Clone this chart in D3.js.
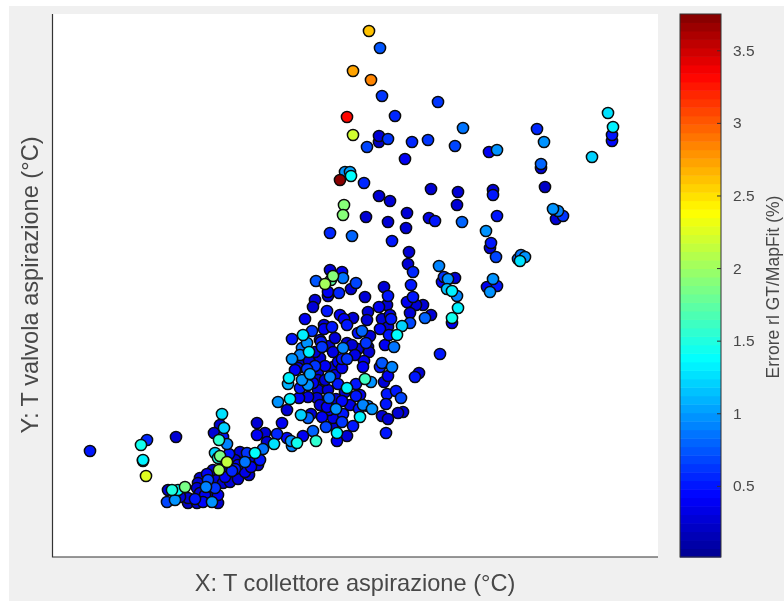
<!DOCTYPE html>
<html><head><meta charset="utf-8">
<script src="https://cdn.jsdelivr.net/npm/d3@7/dist/d3.min.js"></script>
<style>html,body{margin:0;padding:0;background:#fff;overflow:hidden}svg{display:block;filter:blur(0.55px)}text{font-family:"Liberation Sans",Arial,sans-serif;fill:#484848}</style>
</head><body><div id="chart"></div>
<script>
// Each reading: [T collettore, T valvola, errore %]; axes carry no numbers, so T is in arbitrary axis units.
const upperCloud=[[316,526,2.6],[327,509,.72],[300,486,2.7],[318,477,2.85],[329,461,.6],[294,440,3.3],[342,441,.55],[385,455,.65],[300,422,2.2],[326,415,.22],[326,421,.28],[335,418,.6],[314,410,.7],[359,415,.55],[375,417,.65],[410,429,.85],[402,411,.7],[436,405,.4],[444,407,1.0],[484,428,.55],[491,415,.95],[555,444,1.25],[560,430,1.3],[559,422,.5],[559,416,.45],[539,400,1.2],[488,389,.3],[488,393,.8],[352,398,.4],[292,385,1.0],[297,385,1.05],[298,381,1.4],[287,377,3.75],[311,374,.55],[326,361,.3],[337,356,.25],[378,368,.25],[405,365,.3],[440,367,.25],[440,362,.5],[492,370,.2],[404,352,.3],[291,352,1.9],[290,342,1.9],[313,340,.25],[335,335,.3],[354,344,.3],[353,329,.3],[376,339,.35],[382,336,.5],[409,335,.8],[444,341,.5],[277,324,.55],[299,321,.8],[339,316,.5],[433,326,.95],[438,314,.5],[437,309,.3],[443,300,.7],[500,348,1.0],[505,346,.9],[510,341,.6],[503,338,.3],[465,298,.8],[468,302,.85],[472,300,.95],[467,296,1.25]];
const rightCluster=[[440,278,1.0],[444,271,.5],[434,270,.4],[437,265,1.0],[386,291,.9],[389,275,.45],[391,280,.6],[395,278,.95],[402,279,.3],[394,268,1.15],[399,266,1.3],[404,261,.9],[405,249,1.35],[399,239,1.45],[399,234,.4],[387,203,.5]];
const midRight=[[356,305,.3],[355,293,.3],[360,285,.55],[358,272,.5],[331,270,.3],[335,261,.5],[312,260,.3],[360,260,.5],[354,255,.4],[370,252,.25],[363,252,.25],[326,250,.4],[334,252,.3],[315,245,.3],[378,242,.3],[357,244,.3],[337,242,.35],[329,238,.3],[338,238,.5],[372,239,.8],[357,234,.7],[349,231,1.2],[327,228,.45],[335,230,.3],[344,222,1.4],[336,222,.5],[332,212,.4],[341,210,.85],[314,237,.3],[309,226,.8],[317,221,.3],[313,214,.6],[315,210,.3],[305,224,.5],[316,205,.3],[305,208,.3],[311,196,.4],[310,190,.4],[329,194,.75],[327,190,.5],[339,190,.9],[335,181,.4],[331,175,.3],[362,180,.5],[366,184,.3]];
const coreCloud=[[277,287,.3],[289,285,.4],[280,281,1.9],[278,277,1.75],[272,273,2.0],[263,276,.75],[290,279,.85],[303,274,.7],[275,265,.4],[275,261,.3],[286,264,.55],[298,268,.3],[262,257,.3],[260,250,.3],[274,246,.5],[252,238,.4],[287,242,.4],[291,238,.4],[300,239,.3],[294,232,.48],[271,232,.3],[279,230,.5],[271,228,.4],[259,226,.6],[250,222,1.35],[239,218,.5],[254,214,.95],[268,215,.5],[276,211,.3],[294,214,.3],[290,209,.9],[249,209,.85],[256,205,1.35],[239,198,.95],[247,202,.9],[250,195,.3],[262,191,.6],[272,191,.4],[269,210,.6],[289,198,.5],[294,198,.6],[285,195,.4],[289,189,.4],[254,188,.6],[245,189,.4],[265,185,.3],[312,178,1.6],[318,175,.95],[303,173,.5],[294,169,1.3],[277,180,.9],[257,183,1.05],[249,177,1.0],[236,179,1.3],[235,173,1.1],[255,172,.95],[247,169,.5],[265,177,.3],[285,173,.5],[265,167,.3],[237,158,1.35],[225,155,.95],[234,147,.3],[246,159,.4],[276,159,.8],[303,161,.5],[289,156,.42],[334,163,.5],[343,166,.5],[348,159,.7],[333,153,.5],[283,148,1.0],[319,148,.95],[315,151,.85],[310,152,.9],[329,141,.3],[345,144,.3],[350,145,.25],[335,138,.3],[290,143,.5],[307,140,1.35],[306,148,.5],[276,147,.4],[248,142,1.2],[258,143,.3],[255,139,.8],[300,131,.5],[284,124,1.35],[294,121,.3],[284,116,.4],[273,130,.7],[260,126,.8],[250,121,.4],[263,116,1.55],[333,124,.5],[289,135,.6],[280,139,.35],[269,140,.4],[274,150,.4],[280,132,.3],[260,174,.4],[275,167,.3],[264,159,.3]];
const coreDark=[[267,199,.3],[280,205,.35],[299,212,.3],[267,152,.3],[297,152,.35],[292,165,.3],[272,177,.3],[282,182,.35],[242,187,.4],[307,162,.4],[267,217,.3],[282,219,.3],[302,202,.35],[262,205,.3],[256,196,.3],[280,190,.3],[255,160,.35],[283,158,.3]];
const lowerTail=[[204,134,.3],[229,134,.4],[224,123,.55],[204,122,.4],[212,124,.3],[244,114,1.45],[238,116,1.0],[239,111,.9],[234,119,.45],[221,113,1.25],[214,115,.3],[210,108,.85],[202,104,1.4],[194,104,.6],[207,97,.5],[192,95,.85],[200,99,.3],[187,105,.3],[169,143,1.25],[171,129,1.2],[167,132,.3],[161,124,.3],[166,117,1.55],[174,113,.9],[170,120,.5],[162,104,1.2],[167,101,1.85],[165,99,1.5],[176,103,.5],[174,95,2.15],[166,87,2.0],[179,86,.55],[185,92,.4],[170,94,.3],[182,97,.3],[174,84,.3],[184,82,.3],[160,87,.3],[154,83,.4],[147,79,.25],[155,77,.7],[164,77,.3],[145,74,.25],[153,70,.9],[162,69,.6],[170,74,.3],[144,69,.3],[147,64,.3],[157,64,.3],[142,58,.5],[152,62,.4],[165,62,.4],[135,54,.2],[159,55,1.0],[150,55,.45],[144,54,.3],[135,59,.25],[165,54,.3],[119,67,1.5],[132,70,1.85],[125,67,1.4],[115,67,.3],[122,57,1.0],[114,55,.7],[127,60,.3],[123,120,.3],[37,106,.5],[94,117,.55],[88,112,1.45],[90,96,.2],[90,97,1.3],[93,81,2.25],[177,75,.3],[185,78,.3],[192,85,.35],[198,90,.4],[205,92,.3],[182,88,.5],[190,92,.3],[172,80,.4],[196,82,.3]];
const colorTicks=[0.5,1,1.5,2,2.5,3,3.5];
const errDomain=[0.01,3.75];
const jetStops=["#00008f","#0000ff","#00ffff","#80ff80","#ffff00","#ff0000","#800000"];
const jetPositions=[0,0.111,0.365,0.5,0.635,0.889,1];
const xTitle="X: T collettore aspirazione (°C)";
const yTitle="Y: T valvola aspirazione (°C)";
const cTitle="Errore rl GT/MapFit (%)";

const W=784,H=601;
const svg=d3.select("#chart").append("svg").attr("width",W).attr("height",H);
svg.append("rect").attr("x",9).attr("y",6).attr("width",W-9).attr("height",H-6).attr("fill","#f0f0f0");
const L=52.5,R=658,T=14,B=557;
svg.append("rect").attr("x",L).attr("y",T).attr("width",R-L).attr("height",B-T).attr("fill","#fff");
const x=d3.scaleLinear().domain([0,605]).range([53,658]);
const y=d3.scaleLinear().domain([0,543]).range([557,14]);
const jetT=d3.scaleLinear().domain(jetPositions).range(jetStops).interpolate(d3.interpolateRgb);
const nLevels=64;
const levelOf=d3.scaleQuantize().domain(errDomain).range(d3.range(nLevels));
const colorOf=v=>jetT((levelOf(v)+0.5)/nLevels);
const pts=[...upperCloud,...rightCluster,...midRight,...coreCloud,...coreDark,...lowerTail].sort((a,b)=>d3.ascending(a[2],b[2]));
svg.append("g").selectAll("circle").data(pts).join("circle")
 .attr("cx",d=>x(d[0])).attr("cy",d=>y(d[1])).attr("r",5.6)
 .attr("fill",d=>colorOf(d[2])).attr("stroke","#0a0a0a").attr("stroke-width",1.5);
svg.append("path").attr("d",`M${L},${T}V${B}H${R}`).attr("fill","none").attr("stroke","#333").attr("stroke-width",1.2);
// colorbar
const cx0=680,cx1=721;
const c=d3.scaleLinear().domain([0.01,3.75]).range([557,14]);
const step=(errDomain[1]-errDomain[0])/nLevels;
svg.append("g").selectAll("rect").data(d3.range(nLevels)).join("rect")
 .attr("x",cx0).attr("width",cx1-cx0)
 .attr("y",i=>c(errDomain[0]+(i+1)*step)).attr("height",i=>c(errDomain[0]+i*step)-c(errDomain[0]+(i+1)*step)+0.5)
 .attr("fill",i=>jetT((i+0.5)/nLevels));
svg.append("rect").attr("x",cx0).attr("y",14).attr("width",cx1-cx0).attr("height",543).attr("fill","none").attr("stroke","#333").attr("stroke-width",1);
const ax=svg.append("g").attr("transform",`translate(${cx1},0)`).call(d3.axisRight(c).tickValues(colorTicks).tickFormat(d3.format("~g")).tickSize(-4).tickPadding(12));
ax.select(".domain").remove();
ax.selectAll("line").attr("stroke","#333");
ax.selectAll("text").attr("font-size",15.5).attr("x",12).style("fill","#484848");
svg.append("text").attr("x",355).attr("y",591).attr("text-anchor","middle").attr("font-size",23.6).text(xTitle);
svg.append("text").attr("transform","translate(38,285) rotate(-90)").attr("text-anchor","middle").attr("font-size",23.6).text(yTitle);
svg.append("text").attr("transform","translate(779,287) rotate(-90)").attr("text-anchor","middle").attr("font-size",17.5).text(cTitle);
</script></body></html>
